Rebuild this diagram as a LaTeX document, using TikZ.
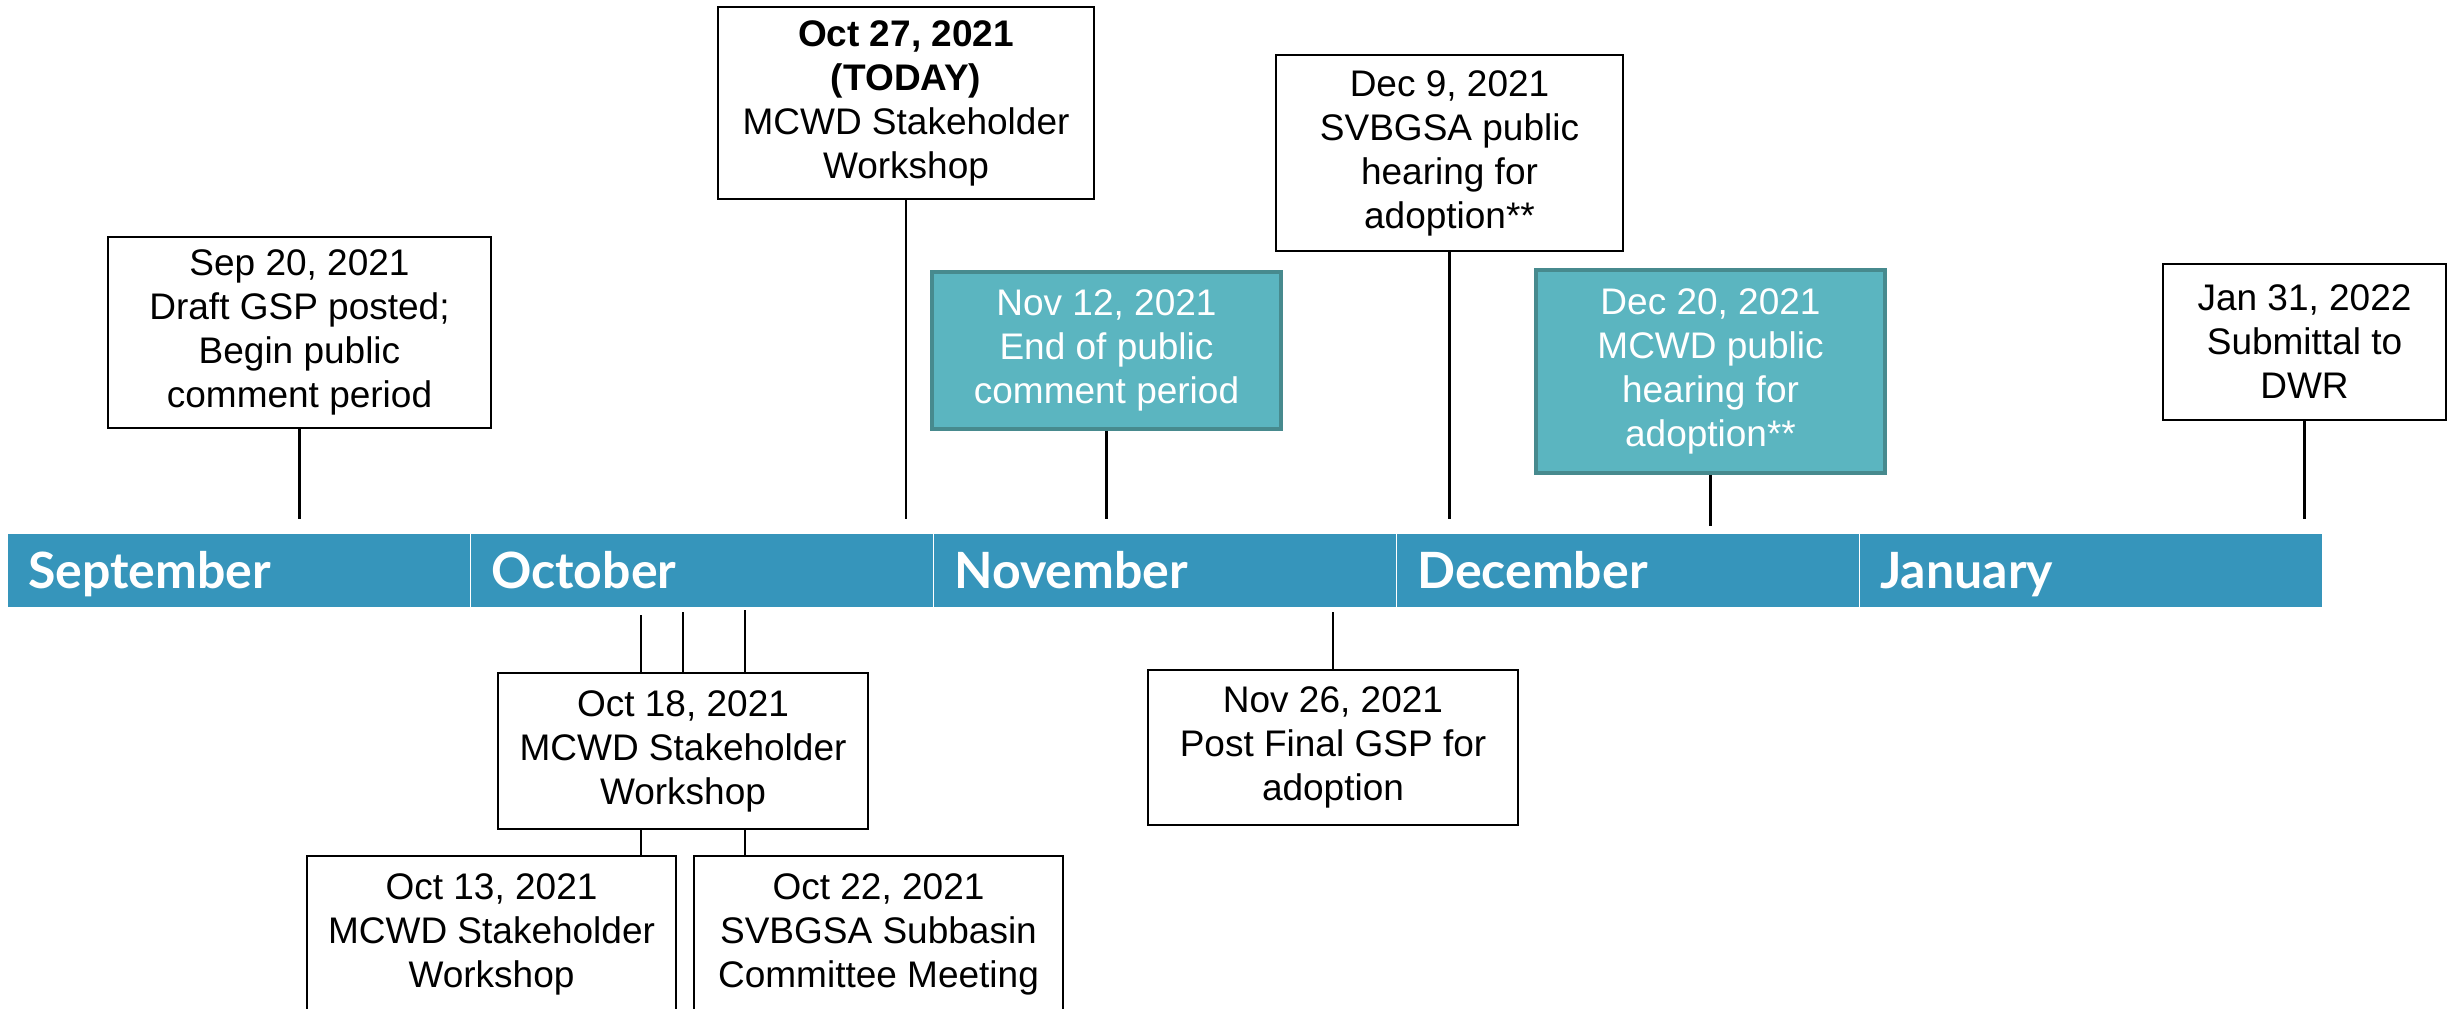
\documentclass[tikz,border=0pt]{standalone}
\usepackage{fontspec}
\setmainfont{Liberation Sans}
\newfontfamily\monthfont{Lato}
\usepackage{tikz}
\usetikzlibrary{calc}
\definecolor{barblue}{RGB}{54,149,187}
\definecolor{tealfill}{RGB}{91,181,192}
\definecolor{tealedge}{RGB}{71,138,142}
\tikzset{
  evt/.style={draw=black, line width=2pt, fill=white, align=center, inner sep=0pt,
    font=\fontsize{37}{44}\selectfont},
  hot/.style={evt, draw=tealedge, fill=tealfill, text=white, line width=3.5pt},
  month/.style={fill=barblue, text=white, minimum width=461.5pt, minimum height=73pt,
    inner sep=0pt, text width=421pt, align=left, text height=36pt, text depth=0pt,
    font=\monthfont\bfseries\fontsize{50}{60}\selectfont},
  tick/.style={line width=2.2pt}
}

\begin{document}
\begin{tikzpicture}[x=1pt, y=-1pt]
  \useasboundingbox (0,0) rectangle (2455,1009);
  \clip (0,0) rectangle (2455,1009);
  % Month bar
  \foreach \m [count=\i from 0] in {September,October,November,December,January} {
    \node[month] (m\i) at ({238.75+463*\i},570.5) {\m};
  }
  \coordinate (up) at (0,519);
  \coordinate (dn) at (0,612);
  % Above the bar
  \node[evt, minimum width=383pt, minimum height=191pt] (sep20) at (299.5,332.5)
    {Sep 20, 2021\\Draft GSP posted;\\Begin public\\comment period};
  \node[evt, minimum width=376pt, minimum height=192pt] (oct27) at (906,103)
    {\textbf{Oct 27, 2021}\\\textbf{(TODAY)}\\MCWD Stakeholder\\Workshop};
  \node[hot, minimum width=349pt, minimum height=157pt] (nov12) at (1106.5,350.5)
    {Nov 12, 2021\\End of public\\comment period};
  \node[evt, minimum width=347pt, minimum height=196pt] (dec9) at (1449.5,153)
    {Dec 9, 2021\\SVBGSA public\\hearing for\\adoption**};
  \node[hot, minimum width=349pt, minimum height=203pt] (dec20) at (1710.5,371.5)
    {Dec 20, 2021\\MCWD public\\hearing for\\adoption**};
  \node[evt, minimum width=283pt, minimum height=156pt] (jan31) at (2304.5,342)
    {Jan 31, 2022\\Submittal to\\DWR};
  \foreach \e in {sep20,oct27,nov12,dec9,jan31} {
    \draw[tick] (\e.south) -- (\e.south |- up);
  }
  \draw[tick] (dec20.south) -- ($(dec20.south |- up)+(0,7)$);
  % Below the bar
  \node[evt, minimum width=370pt, minimum height=155pt] (nov26) at (1333,747.5)
    {Nov 26, 2021\\Post Final GSP for\\adoption};
  \node[evt, minimum width=370pt, minimum height=156pt] (oct18) at (683,751)
    {Oct 18, 2021\\MCWD Stakeholder\\Workshop};
  \node[evt, minimum width=369pt, minimum height=156pt] (oct13) at (491.5,934)
    {Oct 13, 2021\\MCWD Stakeholder\\Workshop};
  \node[evt, minimum width=369pt, minimum height=156pt] (oct22) at (878.5,934)
    {Oct 22, 2021\\SVBGSA Subbasin\\Committee Meeting};
  \draw[tick] (nov26.north) -- (nov26.north |- dn);
  \draw[tick] (oct18.north) -- (oct18.north |- dn);
  \coordinate (c13) at (641,615);
  \coordinate (c22) at (745,610);
  \draw[tick] (c13) -- (c13 |- oct18.north);
  \draw[tick] (c13 |- oct18.south) -- (c13 |- oct13.north);
  \draw[tick] (c22) -- (c22 |- oct18.north);
  \draw[tick] (c22 |- oct18.south) -- (c22 |- oct22.north);
\end{tikzpicture}
\end{document}
